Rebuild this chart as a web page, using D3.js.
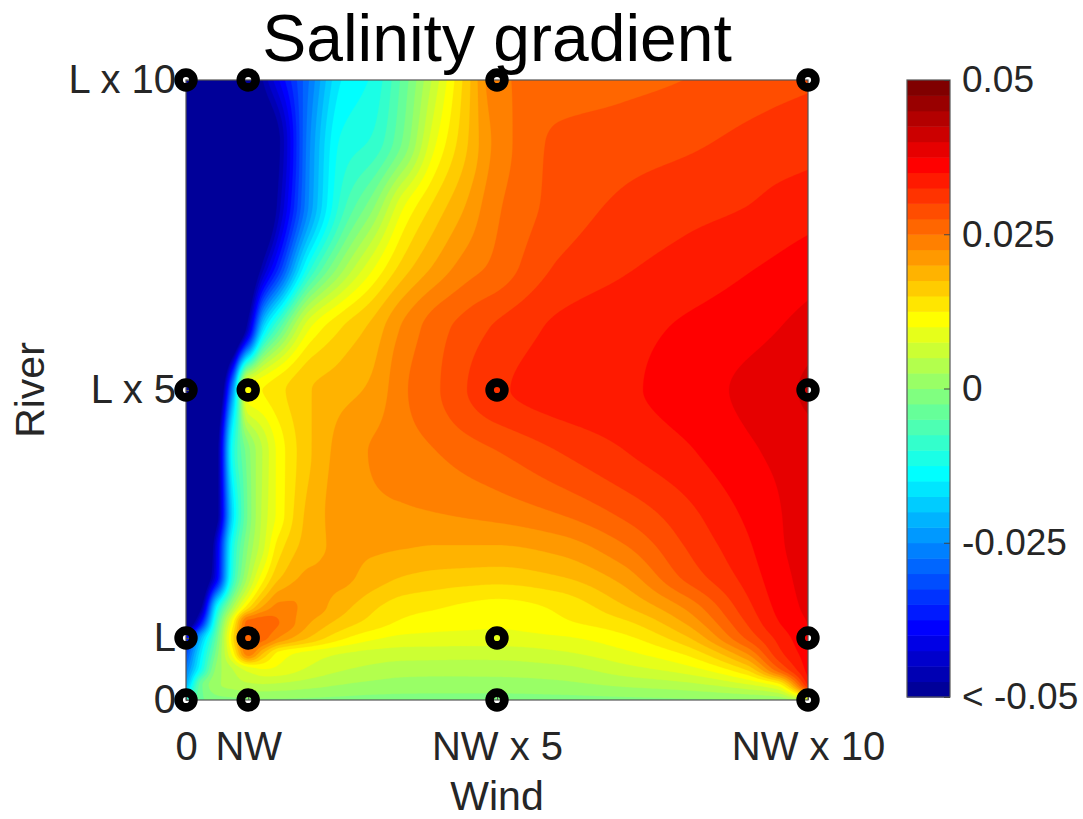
<!DOCTYPE html>
<html>
<head>
<meta charset="utf-8">
<script src="https://cdn.jsdelivr.net/npm/d3@7"></script>
<style>
  body { margin: 0; background: #fff; }
  svg { display: block; }
  text { font-family: "Liberation Sans", Arial, Helvetica, sans-serif; }
</style>
</head>
<body>
<svg id="chart" width="1083" height="819"></svg>
<script>
// ---------------- data ----------------
const windLevels = [0, 1, 5, 10];
const windLabels = ["0", "NW", "NW x 5", "NW x 10"];
const riverLevels = [0, 1, 5, 10];
const riverLabels = ["0", "L", "L x 5", "L x 10"];

const gridWind  = [0, 0.25, 0.5, 0.75, 1, 1.25, 1.5, 2, 2.5, 3, 3.5, 4, 4.5, 5, 6, 7, 8, 9, 9.5, 10];
const gridRiver = [0, 0.25, 0.5, 0.75, 1, 1.25, 1.5, 2, 2.5, 3, 4, 5, 6, 7, 8, 9, 10];

// salinity gradient, in units of 1e-3, one row per gridRiver value
const river0_00 = [-9, -3, -1.2, -0.8, -0.6, -0.5, -0.5, -0.6, -0.8, -1, -1, -1, -1, -1, -1, -0.8, -0.5, -0.3, 0, 5];
const river0_25 = [-22, -3, 2, 3.5, 4.5, 4.8, 4.5, 3.5, 2.5, 1.8, 1.4, 1.3, 1.3, 1.3, 1.8, 3, 4.2, 7.2, 11, 33];
const river0_50 = [-27, -12, 1, 5, 8.5, 10, 9.3, 7, 5.3, 4.3, 3.7, 3.6, 3.6, 3.7, 4.2, 6.4, 8.8, 15.3, 26.5, 36];
const river0_75 = [-32, -15, -1, 11, 24, 17, 11.5, 9, 7.5, 6.6, 6.2, 6.1, 6, 6, 7, 9.2, 12.7, 22.3, 31.2, 36.5];
const river1_00 = [-39, -20, -3.5, 14, 27, 25.7, 22.2, 17.1, 13, 10.5, 9.3, 9.1, 9, 9, 9.6, 11.7, 16.7, 27.7, 33, 37.2];
const river1_25 = [-60, -37, -7.5, 11, 26, 26.5, 25, 20, 16.5, 14, 12, 11.2, 10.8, 10.5, 12, 14.3, 20, 30, 34.7, 37.6];
const river1_50 = [-65, -48, -14, 2.5, 14, 20.5, 23.3, 21.5, 18.5, 15.5, 13.5, 12.8, 12, 11.5, 13, 17, 22.7, 31.5, 35.5, 38.2];
const river2_00 = [-68, -58, -40, -10, 3, 11.5, 17, 20.5, 20.5, 19, 17.5, 16.8, 16.5, 16.3, 17.5, 21, 28, 33.4, 36.4, 38.6];
const river2_50 = [-70, -62, -42, -12, 0, 7, 13.7, 18.8, 20.5, 20.5, 20.3, 20, 20, 20, 21.2, 24.7, 30, 34.5, 37, 38.8];
const river3_00 = [-72, -65, -50, -17, -2, 6, 11, 18.5, 21, 21.8, 22.1, 22.4, 22.8, 23.3, 25, 27.9, 31.5, 35.4, 37.2, 39];
const river4_00 = [-72, -65, -50, -12, -1, 5.5, 11, 17.3, 21, 22.7, 23.8, 24.9, 26.2, 27.4, 30, 32.3, 34.5, 37, 38, 39];
const river5_00 = [-75, -72, -60, -25, 11.5, 12.6, 14.3, 17.4, 19, 20.6, 24.6, 27, 29.9, 32, 33.7, 34.5, 36.2, 38, 39, 40.5];
const river6_00 = [-70, -70, -69, -64, -45, -17, -5.5, 10, 15, 18.3, 23, 26.3, 28.5, 30.4, 33, 34.1, 35.3, 36.5, 37.4, 38.5];
const river7_00 = [-70, -70, -69, -66, -58, -46, -35, -11, 1, 9.3, 16, 20.3, 23.6, 25.7, 30.3, 32.1, 33.4, 34.7, 35.4, 36.2];
const river8_00 = [-70, -70, -70, -68, -63, -56, -46, -24, -9, -1, 9.5, 15.5, 20, 24.5, 28.4, 30.4, 31.5, 32.4, 33.2, 33.8];
const river9_00 = [-70, -70, -69, -66, -62, -55, -48, -25, -12, -9.5, -2, 9.5, 17, 23.3, 28, 28.8, 29.5, 30.6, 31.1, 31.5];
const river10_0 = [-70, -70, -68, -64, -57, -47, -40, -27, -15, -12, -4, 6, 16, 24.5, 25.8, 26.7, 27.5, 28.7, 29.2, 29.6];
const gradientRows = [river0_00, river0_25, river0_50, river0_75, river1_00, river1_25, river1_50, river2_00,
  river2_50, river3_00, river4_00, river5_00, river6_00, river7_00, river8_00, river9_00, river10_0];
const valueUnit = 1e-3;

const colorbarTicks = [-0.05, -0.025, 0, 0.025, 0.05];
const colorbarTickLabels = ["< -0.05", "-0.025", "0", "0.025", "0.05"];
const colorMin = -0.05, colorMax = 0.05, colorCount = 40;

// ---------------- helpers ----------------
function jet(m) {
  const n = Math.ceil(m / 4);
  const u = [];
  for (let i = 1; i <= n; i++) u.push(i / n);
  for (let i = 0; i < n - 1; i++) u.push(1);
  for (let i = n; i >= 1; i--) u.push(i / n);
  const g0 = Math.ceil(n / 2) - (m % 4 === 1 ? 1 : 0);
  const J = Array.from({length: m}, () => [0, 0, 0]);
  u.forEach((v, k) => {
    const g = g0 + k + 1, r = g + n, b = g - n;
    if (g >= 1 && g <= m) J[g - 1][1] = v;
    if (r >= 1 && r <= m) J[r - 1][0] = v;
    if (b >= 1 && b <= m) J[b - 1][2] = v;
  });
  return J.map(c => d3.rgb(c[0] * 255, c[1] * 255, c[2] * 255).formatHex());
}

function monotone(xk, yk) {
  const n = xk.length, h = [], d = [], m = new Array(n);
  for (let i = 0; i < n - 1; i++) { h[i] = xk[i + 1] - xk[i]; d[i] = (yk[i + 1] - yk[i]) / h[i]; }
  m[0] = d[0]; m[n - 1] = d[n - 2];
  for (let i = 1; i < n - 1; i++) {
    if (d[i - 1] * d[i] <= 0) m[i] = 0;
    else {
      const w1 = 2 * h[i] + h[i - 1], w2 = h[i] + 2 * h[i - 1];
      m[i] = (w1 + w2) / (w1 / d[i - 1] + w2 / d[i]);
    }
  }
  return x => {
    let i = d3.bisectRight(xk, x) - 1;
    i = Math.max(0, Math.min(n - 2, i));
    const t = (x - xk[i]) / h[i], t2 = t * t, t3 = t2 * t;
    return (2 * t3 - 3 * t2 + 1) * yk[i] + (t3 - 2 * t2 + t) * h[i] * m[i] +
           (-2 * t3 + 3 * t2) * yk[i + 1] + (t3 - t2) * h[i] * m[i + 1];
  };
}

// ---------------- layout ----------------
const svg = d3.select("#chart");
const X0 = 186, X1 = 808, Y0 = 80, Y1 = 700;
const x = d3.scaleLinear().domain([0, 10]).range([X0, X1]);
const y = d3.scaleLinear().domain([0, 10]).range([Y1, Y0]);
const colors = jet(colorCount);
const textColor = "#262626";

// ---------------- field on a fine raster ----------------
const NX = 312, NY = 311;
const sx = 10 / (NX - 1), sy = 10 / (NY - 1);
const rowSplines = gradientRows.map(r => monotone(gridWind, r.map(v => v * valueUnit)));
const rowsFine = rowSplines.map(f => d3.range(NX).map(i => f(i * sx)));
const values = new Float64Array(NX * NY);
for (let i = 0; i < NX; i++) {
  const col = monotone(gridRiver, rowsFine.map(r => r[i]));
  for (let j = 0; j < NY; j++) {
    const yv = 10 - j * sy; // row 0 is the top
    values[j * NX + i] = col(yv);
  }
}
const thresholds = d3.range(1, colorCount).map(k => colorMin + k * (colorMax - colorMin) / colorCount);
const contours = d3.contours().size([NX, NY]).thresholds(thresholds)(values);

const proj = d3.geoTransform({
  point: function(cx, cy) { this.stream.point(x((cx - 0.5) * sx), y(10 - (cy - 0.5) * sy)); }
});
const path = d3.geoPath(proj);

svg.append("clipPath").attr("id", "plotclip")
  .append("rect").attr("x", X0).attr("y", Y0).attr("width", X1 - X0).attr("height", Y1 - Y0);

const field = svg.append("g").attr("clip-path", "url(#plotclip)");
field.append("rect").attr("x", X0).attr("y", Y0).attr("width", X1 - X0).attr("height", Y1 - Y0)
  .attr("fill", colors[0]);
field.selectAll("path.band").data(contours).join("path")
  .attr("class", "band")
  .attr("d", path)
  .attr("fill", (d, k) => colors[k + 1])
  .attr("stroke", (d, k) => colors[k + 1])
  .attr("stroke-width", 0.3);

// ---------------- axes ----------------
svg.append("rect").attr("x", X0).attr("y", Y0).attr("width", X1 - X0).attr("height", Y1 - Y0)
  .attr("fill", "none").attr("stroke", "#555").attr("stroke-width", 1.2);

const xAxis = d3.axisBottom(x).tickValues(windLevels)
  .tickFormat((d, i) => windLabels[i]).tickSizeInner(-6).tickSizeOuter(0).tickPadding(32);
const gx = svg.append("g").attr("transform", `translate(0,${Y1})`).call(xAxis);
const yAxis = d3.axisLeft(y).tickValues(riverLevels)
  .tickFormat((d, i) => riverLabels[i]).tickSizeInner(-6).tickSizeOuter(0).tickPadding(10);
const gy = svg.append("g").attr("transform", `translate(${X0},0)`).call(yAxis);
[gx, gy].forEach(g => {
  g.select(".domain").remove();
  g.selectAll(".tick line").attr("stroke", "#555");
  g.selectAll(".tick text").attr("fill", textColor).style("font-size", "40px")
    .style("font-family", '"Liberation Sans", Arial, sans-serif');
});

// ---------------- markers ----------------
const pts = [];
riverLevels.forEach(r => windLevels.forEach(w => pts.push([w, r])));
svg.append("g").selectAll("circle").data(pts).join("circle")
  .attr("cx", d => x(d[0])).attr("cy", d => y(d[1])).attr("r", 7.4)
  .attr("fill", "none").attr("stroke", "#000").attr("stroke-width", 8.6);

// ---------------- titles ----------------
svg.append("text").attr("x", (X0 + X1) / 2).attr("y", 61).attr("text-anchor", "middle")
  .style("font-size", "66px").attr("fill", "#000").text("Salinity gradient");
svg.append("text").attr("x", (X0 + X1) / 2).attr("y", 810).attr("text-anchor", "middle")
  .style("font-size", "41px").attr("fill", textColor).text("Wind");
svg.append("text").attr("transform", `translate(44,${(Y0 + Y1) / 2}) rotate(-90)`)
  .attr("text-anchor", "middle").style("font-size", "41px").attr("fill", textColor).text("River");

// ---------------- colorbar ----------------
const CB0 = 907, CB1 = 950;
const cy = d3.scaleLinear().domain([colorMin, colorMax]).range([697, 80]);
const cb = svg.append("g");
cb.selectAll("rect.cband").data(colors).join("rect").attr("class", "cband")
  .attr("x", CB0).attr("width", CB1 - CB0)
  .attr("y", (c, k) => cy(colorMin + (k + 1) * (colorMax - colorMin) / colorCount))
  .attr("height", (c, k) => cy(colorMin + k * (colorMax - colorMin) / colorCount) - cy(colorMin + (k + 1) * (colorMax - colorMin) / colorCount) + 0.5)
  .attr("fill", c => c);
cb.append("rect").attr("x", CB0).attr("y", 80).attr("width", CB1 - CB0).attr("height", 617)
  .attr("fill", "none").attr("stroke", "#555").attr("stroke-width", 1.2);
const cAxis = d3.axisRight(cy).tickValues(colorbarTicks)
  .tickFormat((d, i) => colorbarTickLabels[i]).tickSizeInner(-6).tickSizeOuter(0).tickPadding(12);
const gc = svg.append("g").attr("transform", `translate(${CB1},0)`).call(cAxis);
gc.select(".domain").remove();
gc.selectAll(".tick line").attr("stroke", "#444");
gc.selectAll(".tick text").attr("fill", textColor).style("font-size", "37px")
  .style("font-family", '"Liberation Sans", Arial, sans-serif');
</script>
</body>
</html>
